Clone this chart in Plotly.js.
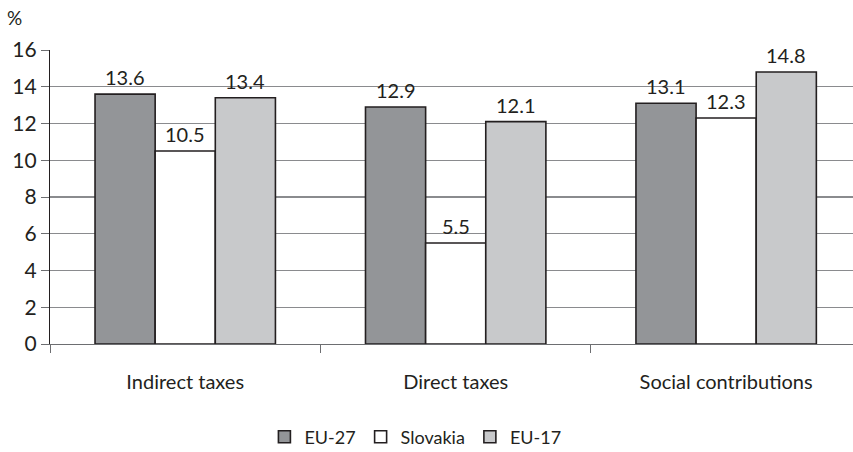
<!DOCTYPE html>
<html>
<head>
<meta charset="utf-8">
<script src="https://cdn.plot.ly/plotly-3.0.1.min.js"></script>
<style>
  html, body { margin: 0; padding: 0; background: #fff; }
  #chart { width: 853px; height: 452px; }
</style>
</head>
<body>
<div id="chart"></div>
<script>
// Tax revenue structure, % of GDP
const categories = ["Indirect taxes", "Direct taxes", "Social contributions"];
const seriesNames = ["EU-27", "Slovakia", "EU-17"];
const eu27 = [13.6, 12.9, 13.1];
const slovakia = [10.5, 5.5, 12.3];
const eu17 = [13.4, 12.1, 14.8];
const yTicks = [0, 2, 4, 6, 8, 10, 12, 14, 16];

const FONT = "Lato, 'Open Sans', sans-serif";
const INK = "#231f20";
const fills = ["#939598", "#ffffff", "#c8c9cb"];
const BARGAP = 0.333;

const seriesValues = [eu27, slovakia, eu17];

const data = seriesValues.map((values, s) => ({
  type: "bar",
  name: seriesNames[s],
  x: categories,
  y: values,
  marker: { color: fills[s], line: { color: INK, width: 1.6 } },
  hoverinfo: "skip"
}));

// Value labels sit centred above each bar of the group
const barWidth = (1 - BARGAP) / seriesValues.length;
const valueLabels = [];
seriesValues.forEach((values, s) => {
  values.forEach((v, i) => {
    valueLabels.push({
      xref: "x", yref: "y",
      x: i + (s - (seriesValues.length - 1) / 2) * barWidth,
      y: v,
      text: v.toFixed(1),
      xanchor: "center", yanchor: "bottom",
      yshift: 3,
      showarrow: false,
      font: { family: FONT, size: 20, color: INK }
    });
  });
});

const layout = {
  width: 853,
  height: 452,
  margin: { l: 50, r: 0, t: 50, b: 108 },
  paper_bgcolor: "#ffffff",
  plot_bgcolor: "#ffffff",
  font: { family: FONT, size: 20, color: INK },
  barmode: "group",
  bargap: BARGAP,
  bargroupgap: 0,
  showlegend: true,
  legend: {
    orientation: "h",
    xref: "container", yref: "container",
    x: 0.487, xanchor: "center",
    y: 0.033, yanchor: "middle",
    font: { family: FONT, size: 18, color: INK },
    itemwidth: 30,
    traceorder: "normal"
  },
  xaxis: {
    type: "category",
    range: [-0.5, 2.469],
    showline: true,
    linecolor: "#6d6e71",
    linewidth: 1.2,
    ticks: "outside",
    tickson: "boundaries",
    ticklen: 8,
    tickcolor: "#6d6e71",
    ticklabelstandoff: 20,
    tickfont: { family: FONT, size: 20, color: INK },
    showgrid: false,
    zeroline: false,
    automargin: false,
    fixedrange: true
  },
  yaxis: {
    range: [0, 16],
    tickvals: yTicks,
    ticktext: yTicks.map(String),
    showline: true,
    linecolor: INK,
    linewidth: 1.2,
    ticks: "outside",
    ticklen: 8,
    tickcolor: "#6d6e71",
    tickfont: { family: FONT, size: 21, color: INK },
    showgrid: true,
    gridcolor: "#8a8b8e",
    gridwidth: 1.2,
    zeroline: false,
    automargin: false,
    fixedrange: true
  },
  annotations: valueLabels.concat([{
    text: "%",
    xref: "paper", yref: "paper",
    x: -0.044, y: 1.109,
    xanchor: "center", yanchor: "middle",
    showarrow: false,
    font: { family: FONT, size: 19, color: INK }
  }])
};

Plotly.newPlot("chart", data, layout, { displayModeBar: false, staticPlot: true });
</script>
</body>
</html>
